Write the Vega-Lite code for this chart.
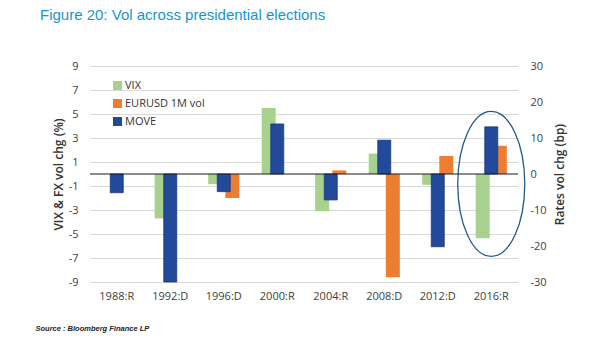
{
  "$schema": "https://vega.github.io/schema/vega-lite/v6.json",
  "width": 428,
  "height": 216,
  "autosize": {"type": "none"},
  "padding": {"left": 90, "top": 66, "right": 87, "bottom": 59},
  "background": "white",
  "title": {
    "text": "Figure 20: Vol across presidential elections",
    "anchor": "start",
    "frame": "group",
    "dx": -50,
    "offset": 25,
    "baseline": "alphabetic",
    "font": "Liberation Sans",
    "fontSize": 15,
    "fontWeight": "normal",
    "color": "#1595d3"
  },
  "config": {
    "view": {"stroke": null},
    "axis": {"labelFont": "Open Sans", "labelFontSize": 11, "labelColor": "#404040", "titleFont": "Open Sans", "titleColor": "#333333"}
  },
  "datasets": {
    "fx": [
      {"cat": "1992:D", "series": "VIX", "value": -3.7},
      {"cat": "1996:D", "series": "VIX", "value": -0.85},
      {"cat": "1996:D", "series": "EURUSD 1M vol", "value": -2.0},
      {"cat": "2000:R", "series": "VIX", "value": 5.5},
      {"cat": "2004:R", "series": "VIX", "value": -3.1},
      {"cat": "2004:R", "series": "EURUSD 1M vol", "value": 0.3},
      {"cat": "2008:D", "series": "VIX", "value": 1.7},
      {"cat": "2008:D", "series": "EURUSD 1M vol", "value": -8.6},
      {"cat": "2012:D", "series": "VIX", "value": -0.9},
      {"cat": "2012:D", "series": "EURUSD 1M vol", "value": 1.5},
      {"cat": "2016:R", "series": "VIX", "value": -5.35},
      {"cat": "2016:R", "series": "EURUSD 1M vol", "value": 2.35}
    ],
    "move": [
      {"cat": "1988:R", "series": "MOVE", "value": -5.2},
      {"cat": "1992:D", "series": "MOVE", "value": -30},
      {"cat": "1996:D", "series": "MOVE", "value": -4.9},
      {"cat": "2000:R", "series": "MOVE", "value": 13.9},
      {"cat": "2004:R", "series": "MOVE", "value": -7.2},
      {"cat": "2008:D", "series": "MOVE", "value": 9.4},
      {"cat": "2012:D", "series": "MOVE", "value": -20.2},
      {"cat": "2016:R", "series": "MOVE", "value": 13.1}
    ],
    "highlight": [
      {"cat": "2016:R", "center": -0.83}
    ]
  },
  "layer": [
    {
      "data": {"name": "fx"},
      "mark": {"type": "bar", "size": 14},
      "encoding": {
        "x": {
          "field": "cat",
          "type": "nominal",
          "sort": ["1988:R", "1992:D", "1996:D", "2000:R", "2004:R", "2008:D", "2012:D", "2016:R"],
          "scale": {"domain": ["1988:R", "1992:D", "1996:D", "2000:R", "2004:R", "2008:D", "2012:D", "2016:R"], "paddingInner": 0.36, "paddingOuter": 0.18},
          "axis": {
            "labelAngle": 0,
            "ticks": false,
            "domain": false,
            "labelPadding": 8,
            "title": "Source : Bloomberg Finance LP",
            "titleFont": "Liberation Sans",
            "titleFontSize": 7.5,
            "titleFontStyle": "italic",
            "titleFontWeight": "bold",
            "titleColor": "#222222",
            "titleAnchor": "start",
            "titleAlign": "left",
            "titleBaseline": "middle",
            "titleX": -55,
            "titleY": 46
          }
        },
        "xOffset": {
          "field": "series",
          "scale": {"domain": ["VIX", "EURUSD 1M vol"], "paddingInner": 0, "paddingOuter": 0}
        },
        "y": {
          "field": "value",
          "type": "quantitative",
          "scale": {"domain": [-9, 9], "nice": false, "zero": false},
          "axis": {
            "orient": "left",
            "values": [-9, -7, -5, -3, -1, 1, 3, 5, 7, 9],
            "labelExpr": "(datum.value < 0 ? '-' : '') + abs(datum.value)",
            "grid": true,
            "gridColor": "#d9d9d9",
            "gridWidth": 1,
            "ticks": false,
            "domain": false,
            "labelPadding": 12,
            "title": "VIX & FX vol chg (%)",
            "titleFontSize": 12,
            "titleFontWeight": 600,
            "titlePadding": 3
          }
        },
        "color": {
          "field": "series",
          "type": "nominal",
          "scale": {"domain": ["VIX", "EURUSD 1M vol", "MOVE"], "range": ["#a9d18e", "#ed7d31", "#23499a"]},
          "legend": {
            "orient": "none",
            "legendX": 22,
            "legendY": 14,
            "title": null,
            "padding": 0,
            "symbolType": "square",
            "symbolSize": 81,
            "symbolStrokeWidth": 0,
            "labelFont": "Open Sans",
            "labelFontSize": 11,
            "labelColor": "#333333",
            "labelOffset": 2,
            "rowPadding": 6
          }
        }
      }
    },
    {
      "data": {"name": "move"},
      "mark": {"type": "bar", "size": 13, "stroke": "#1c3a82", "strokeWidth": 0.8},
      "encoding": {
        "x": {"field": "cat", "type": "nominal"},
        "y": {
          "field": "value",
          "type": "quantitative",
          "scale": {"domain": [-30, 30], "nice": false, "zero": false},
          "axis": {
            "orient": "right",
            "values": [-30, -20, -10, 0, 10, 20, 30],
            "labelExpr": "(datum.value < 0 ? '-' : '') + abs(datum.value)",
            "grid": false,
            "ticks": false,
            "domain": false,
            "labelPadding": 12,
            "title": "Rates vol chg (bp)",
            "titleAngle": 270,
            "titleBaseline": "top",
            "titleFontSize": 12,
            "titleFontWeight": 600,
            "titlePadding": 8
          }
        },
        "color": {"field": "series", "type": "nominal"}
      }
    },
    {
      "data": {"name": "highlight"},
      "mark": {
        "type": "point",
        "shape": "M -0.462 0 A 0.462 1 0 1 0 0.462 0 A 0.462 1 0 1 0 -0.462 0 Z",
        "size": 21025,
        "filled": false,
        "stroke": "#23578f",
        "strokeWidth": 1.3,
        "opacity": 1
      },
      "encoding": {
        "x": {"field": "cat", "type": "nominal"},
        "y": {"field": "center", "type": "quantitative", "scale": {"domain": [-9, 9], "nice": false, "zero": false}, "axis": null}
      }
    },
    {
      "data": {"values": [{}]},
      "mark": {"type": "rule", "color": "#1a1a1a", "strokeWidth": 1.2},
      "encoding": {
        "y": {"datum": 0, "type": "quantitative", "scale": {"domain": [-9, 9], "nice": false, "zero": false}, "axis": null}
      }
    }
  ],
  "resolve": {"scale": {"y": "independent"}, "axis": {"y": "independent"}}
}
